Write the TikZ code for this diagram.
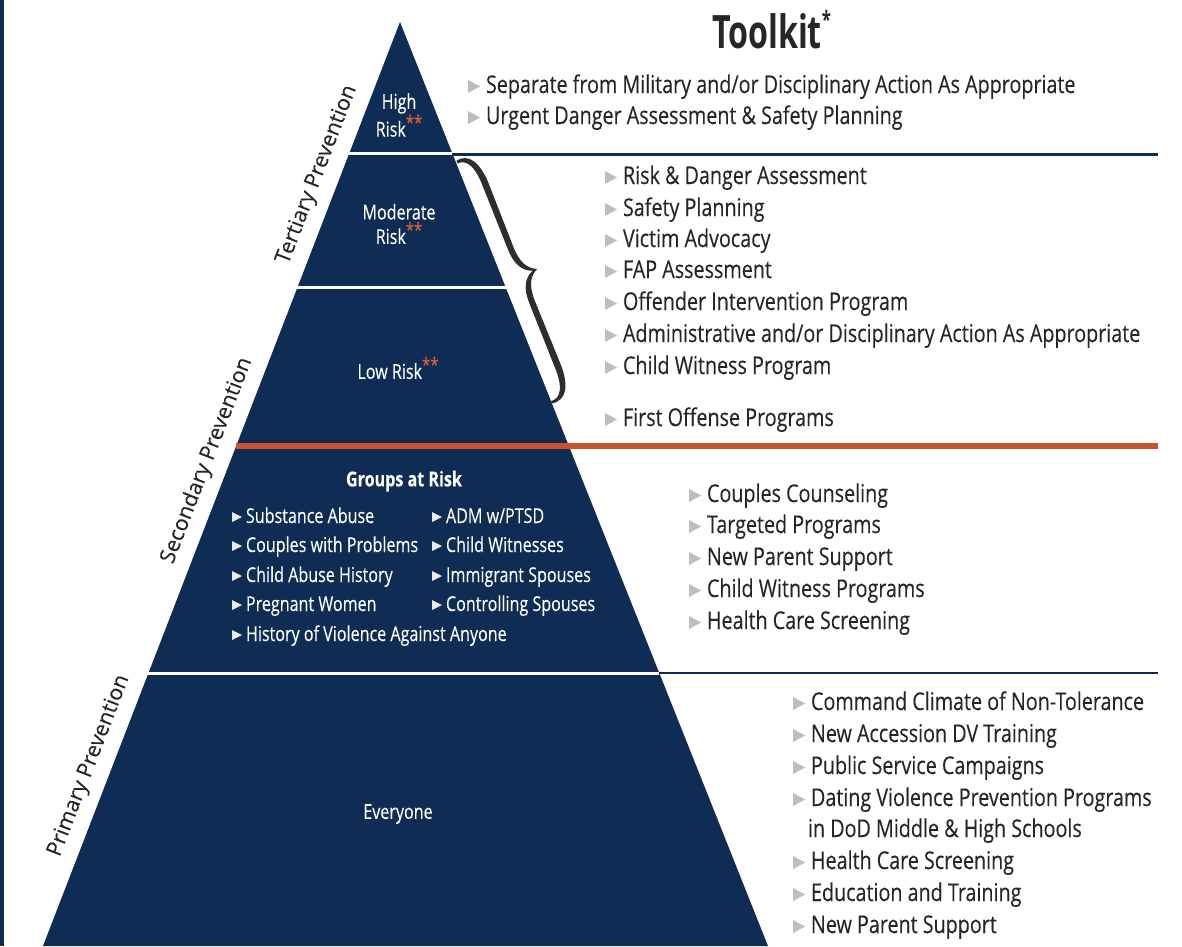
\documentclass[tikz,border=0pt]{standalone}
\usepackage{fontspec}
\setmainfont{Open Sans}
\newfontfamily\cf[FakeStretch=0.805, FakeBold=0.2]{Open Sans}
\newfontfamily\cg[FakeStretch=0.785, FakeBold=0.15]{Open Sans}
\newfontfamily\cft[FakeStretch=0.70]{Open Sans}
\newfontfamily\cs[FakeBold=0.15]{Open Sans}
\usetikzlibrary{calc}
\definecolor{navy}{HTML}{0F2C54}
\definecolor{orng}{HTML}{C9532E}
\definecolor{bulg}{HTML}{BDBDBD}
\definecolor{txt}{HTML}{262626}
\definecolor{brc}{HTML}{2E2E2E}
\definecolor{astc}{HTML}{D9603B}
\newcommand\rast{\raisebox{0.36em}{\color{astc}\fontsize{19}{19}\selectfont **}}
\newcommand\ritm[4]{%
  \node[rtxt] (#1) at (#2,#3) {#4};
  \fill[bulg] ($(#1.base west)+(-18,0)$) -- ($(#1.base west)+(-18,-13)$) -- ($(#1.base west)+(-6,-6.5)$) -- cycle;}
\newcommand\gitm[4]{%
  \node[gtxt] (#1) at (#2,#3) {#4};
  \fill[white!92!black] ($(#1.base west)+(-14,-1)$) -- ($(#1.base west)+(-14,-11)$) -- ($(#1.base west)+(-4,-6)$) -- cycle;}
\tikzset{
  every node/.style={inner sep=0pt, outer sep=0pt},
  rtxt/.style={anchor=base west, text=txt, font=\cf\fontsize{24.5}{28}\selectfont},
  gtxt/.style={anchor=base west, text=white, font=\cg\fontsize{20.5}{23}\selectfont},
  ptxt/.style={text=white, align=center, font=\cg\fontsize{20.5}{24.5}\selectfont},
  side/.style={anchor=south, rotate=68.9, text=txt, font=\cs\fontsize{21.5}{24}\selectfont},
  gap/.style={white, line width=3pt},
  rule/.style={navy, line width=3pt}
}
\begin{document}
\begin{tikzpicture}[x=1pt, y=-1pt]
\useasboundingbox (0,0) rectangle (1182,946);
\fill[white] (0,0) rectangle (1182,946);
% left border bar
\fill[navy] (0,0) rectangle (4,946);
% pyramid
\fill[navy] (400,22) -- (43,946) -- (768,946) -- cycle;
% band gaps and rules
\draw[gap] (330,153.5) -- (452,153.5);
\draw[rule] (452,154) -- (1158,154);
\draw[gap] (280,287.5) -- (508,287.5);
\draw[orng, line width=6pt] (236,446) -- (1158,446);
\draw[gap] (140,673) -- (659,673);
\draw[navy, line width=2.5pt] (659,673) -- (1158,673);
% brace (calligraphic, filled)
\begin{scope}[shift={(457,162)}, rotate=21.7]
  \fill[brc]
    (0,-1.5) .. controls (14,-4) and (21,9) .. (21.5,30) -- (21,100)
    .. controls (21,117) and (26,125) .. (35,129)
    .. controls (26,133) and (21,141) .. (21,158) -- (21.5,228)
    .. controls (21,249) and (14,262) .. (-1,259.5)
    -- (-1,257) .. controls (10,258) and (15,247) .. (15,228)
    -- (15,158) .. controls (15,142) and (20,133) .. (30,129)
    .. controls (20,125) and (15,116) .. (15,100)
    -- (15,30) .. controls (15,11) and (10,1) .. (0,1.5) -- cycle;
\end{scope}
% title
\node[anchor=base, text=txt, font=\cft\bfseries\fontsize{46}{50}\selectfont] (title) at (767,48) {Toolkit\rlap{\raisebox{0.42em}{\fontsize{24}{24}\selectfont *}}};
% side labels
\node[side] (tert) at (327,178.5) {Tertiary Prevention};
\node[side] (seco) at (217,464.5) {Secondary Prevention};
\node[side] (prim) at (99,769.5) {Primary Prevention};
% pyramid texts
\node[ptxt] (high) at (399,115) {High\\Risk\rast};
\node[ptxt] (mod) at (399,224) {Moderate\\Risk\rast};
\node[ptxt] (low) at (398,368) {Low Risk\rast};
\node[ptxt] (every) at (398,814) {Everyone};
\node[text=white, font=\cg\bfseries\fontsize{20.5}{23}\selectfont] (grp) at (404,481) {Groups at Risk};
\gitm{g1}{246}{523}{Substance Abuse}
\gitm{g2}{246}{552}{Couples with Problems}
\gitm{g3}{246}{582}{Child Abuse History}
\gitm{g4}{246}{611}{Pregnant Women}
\gitm{g5}{246}{641}{History of Violence Against Anyone}
\gitm{g6}{446}{523}{ADM w/PTSD}
\gitm{g7}{446}{552}{Child Witnesses}
\gitm{g8}{446}{582}{Immigrant Spouses}
\gitm{g9}{446}{611}{Controlling Spouses}
% top toolkit items
\ritm{t1}{486}{93}{Separate from Military and/or Disciplinary Action As Appropriate}
\ritm{t2}{486}{124}{Urgent Danger Assessment \& Safety Planning}
% tertiary/secondary items
\ritm{m1}{623}{184}{Risk \& Danger Assessment}
\ritm{m2}{623}{216}{Safety Planning}
\ritm{m3}{623}{247}{Victim Advocacy}
\ritm{m4}{623}{278}{FAP Assessment}
\ritm{m5}{623}{310}{Offender Intervention Program}
\ritm{m6}{623}{342}{Administrative and/or Disciplinary Action As Appropriate}
\ritm{m7}{623}{374}{Child Witness Program}
\ritm{m8}{623}{426}{First Offense Programs}
% secondary toolkit
\ritm{s1}{707}{502}{Couples Counseling}
\ritm{s2}{707}{533}{Targeted Programs}
\ritm{s3}{707}{565}{New Parent Support}
\ritm{s4}{707}{597}{Child Witness Programs}
\ritm{s5}{707}{629}{Health Care Screening}
% primary toolkit
\ritm{p1}{811}{710}{Command Climate of Non-Tolerance}
\ritm{p2}{811}{742}{New Accession DV Training}
\ritm{p3}{811}{774}{Public Service Campaigns}
\ritm{p4}{811}{806}{Dating Violence Prevention Programs}
\node[rtxt] (p4b) at (808,837) {in DoD Middle \& High Schools};
\ritm{p5}{811}{869}{Health Care Screening}
\ritm{p6}{811}{901}{Education and Training}
\ritm{p7}{811}{933}{New Parent Support}
\end{tikzpicture}
\end{document}
